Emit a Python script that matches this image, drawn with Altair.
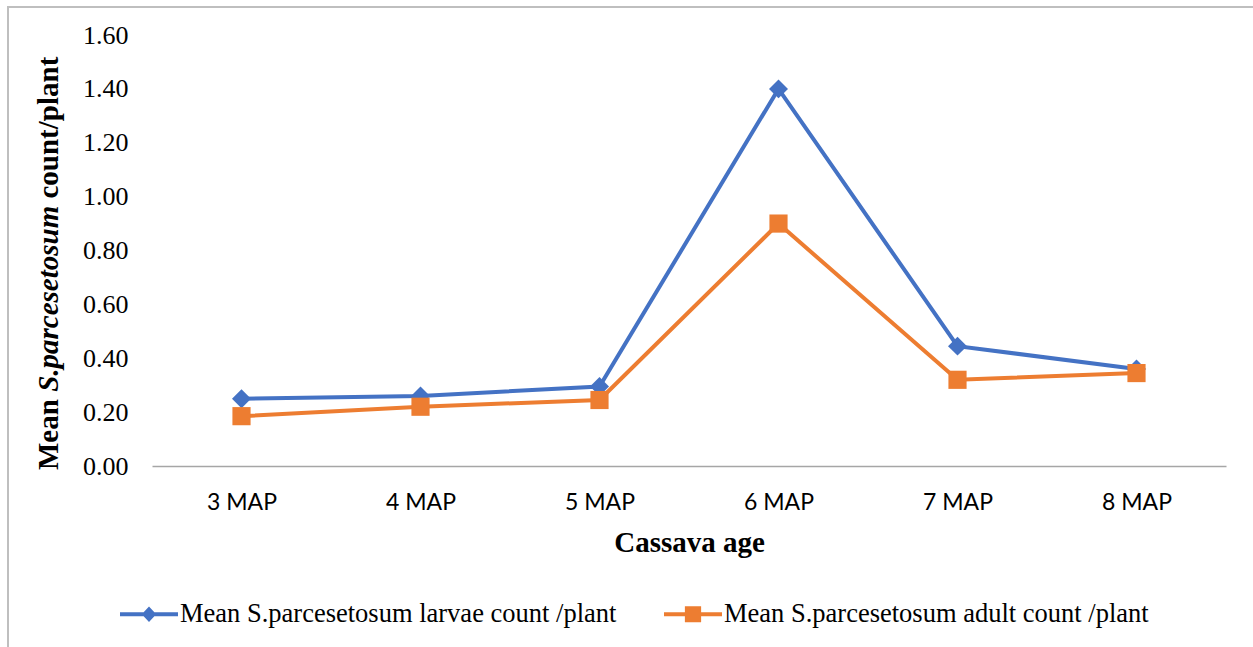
import altair as alt
import pandas as pd

# ---- data -------------------------------------------------------------
ages = ["3 MAP", "4 MAP", "5 MAP", "6 MAP", "7 MAP", "8 MAP"]
larvae = [0.25, 0.26, 0.295, 1.40, 0.445, 0.36]
adult = [0.185, 0.22, 0.245, 0.90, 0.32, 0.345]
series_names = [
    "Mean S.parcesetosum larvae count /plant",
    "Mean S.parcesetosum adult count /plant",
]
series_colors = ["#4472C4", "#ED7D31"]
series_markers = ["diamond", "square"]
y_ticks = [0.0, 0.2, 0.4, 0.6, 0.8, 1.0, 1.2, 1.4, 1.6]

# ---- layout ------------------------------------------------------------
W, H = 1074, 431
PAD = {"left": 152, "top": 35, "right": 27, "bottom": 181}
SERIF = "Liberation Serif"
SANS = "Lato"

df = pd.DataFrame({
    "age": ages * 2,
    "value": larvae + adult,
    "series": [series_names[0]] * len(ages) + [series_names[1]] * len(ages),
})

x_enc = alt.X(
    "age:N",
    scale=alt.Scale(type="point", domain=ages, padding=0.5),
    axis=alt.Axis(
        title="Cassava age",
        titleFont=SERIF, titleFontSize=29, titleFontWeight="bold", titleColor="black",
        titleBaseline="alphabetic", titleY=85,
        labelFont=SANS, labelFontSize=23, labelColor="black", labelAngle=0,
        labelBaseline="alphabetic", labelPadding=43,
        ticks=False, tickSize=0, grid=False,
        domain=True, domainColor="#a6a6a6", domainWidth=1.5,
    ),
)
y_enc = alt.Y(
    "value:Q",
    scale=alt.Scale(domain=[0, 1.6], nice=False, zero=True),
    axis=alt.Axis(
        title=None, values=y_ticks, format=".2f",
        labelFont=SERIF, labelFontSize=26, labelColor="black", labelPadding=24,
        ticks=False, tickSize=0, grid=False, domain=False,
    ),
)

# one line + marker layer per series, larvae first so adult sits on top
series_layers = []
for name, color, marker in zip(series_names, series_colors, series_markers):
    base = alt.Chart(df).transform_filter(alt.datum.series == name)
    series_layers.append(
        base.mark_line(color=color, strokeWidth=4).encode(x=x_enc, y=y_enc)
    )
    series_layers.append(
        base.mark_point(shape=marker, filled=True, color=color, opacity=1,
                        size=360 if marker == "diamond" else 330)
        .encode(x=x_enc, y=y_enc)
    )

# legend: symbols are a short line with the series marker on it
bar = "M-1,-0.065H1V0.065H-1Z"
legend_paths = [
    bar + "M0,-0.27L0.25,0L0,0.27L-0.25,0Z",
    bar + "M-0.28,-0.28H0.28V0.28H-0.28Z",
]
legend = alt.Legend(
    title=None, orient="none", direction="horizontal",
    legendX=-32, legendY=550, padding=0,
    labelFont=SERIF, labelFontSize=26.5, labelColor="black", labelLimit=1000,
    labelOffset=2, columnPadding=47,
    symbolSize=3364, symbolStrokeWidth=0,
)
legend_layer = (
    alt.Chart(df)
    .transform_filter("false")
    .mark_point(filled=True, opacity=1)
    .encode(
        x=x_enc, y=y_enc,
        color=alt.Color("series:N", scale=alt.Scale(domain=series_names, range=series_colors), legend=legend),
        shape=alt.Shape("series:N", scale=alt.Scale(domain=series_names, range=legend_paths), legend=legend),
    )
)

# y-axis title with the species name in italics (Times-compatible advance widths)
BOLD = {"M": 944, "e": 444, "a": 500, "n": 556, " ": 250, "c": 444, "o": 500, "u": 556,
        "t": 333, "/": 278, "p": 556, "l": 278}
BOLD_ITALIC = {"S": 556, ".": 250, "p": 500, "a": 500, "r": 389, "c": 444, "e": 444,
               "s": 389, "t": 278, "o": 500, "u": 556, "m": 778}
TITLE_SIZE = 29


def advance(text, table):
    return sum(table[ch] for ch in text) * TITLE_SIZE / 1000.0


title_parts = [("Mean", "normal", BOLD, "Mean "),
               ("S.parcesetosum", "italic", BOLD_ITALIC, "S.parcesetosum"),
               ("count/plant", "normal", BOLD, " count/plant")]
title_x = -94
cursor = 435
title_layers = []
for text, style, table, spaced in title_parts:
    offset = cursor
    if spaced.startswith(" "):
        offset -= advance(" ", BOLD)
    title_layers.append(
        alt.Chart(pd.DataFrame({"label": [text]}))
        .mark_text(angle=270, align="left", baseline="alphabetic", font=SERIF,
                   fontSize=TITLE_SIZE, fontWeight="bold", fontStyle=style, color="black")
        .encode(text="label:N", x=alt.value(title_x), y=alt.value(offset))
    )
    cursor -= advance(spaced, table)

# chart-area frame
frame = (
    alt.Chart(pd.DataFrame({"f": [0]}))
    .mark_rect(fill="white", fillOpacity=0, stroke="#bfbfbf", strokeWidth=2)
    .encode(x=alt.value(-144), y=alt.value(-28), x2=alt.value(W + 200), y2=alt.value(H + 300))
)

chart = (
    alt.layer(frame, *series_layers, legend_layer, *title_layers)
    .properties(width=W, height=H, padding=PAD, background="white",
                autosize=alt.AutoSizeParams(type="none"))
    .configure_view(stroke=None, strokeWidth=0)
)

chart.save("out.html", embed_options={"renderer": "svg", "actions": False})
